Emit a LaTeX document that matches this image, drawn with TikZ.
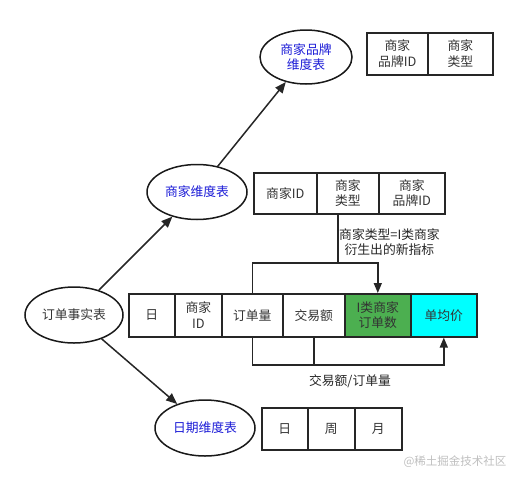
\documentclass[tikz,border=0pt]{standalone}
\usepackage{fontspec}
\setmainfont{Noto Sans CJK SC}
\usetikzlibrary{shapes.geometric,arrows.meta,calc}
\definecolor{dimblue}{HTML}{1A1AD6}
\definecolor{cellgreen}{HTML}{4CAF50}
\definecolor{cellcyan}{HTML}{00FFFF}
\definecolor{txt}{HTML}{333333}
\begin{document}
\begin{tikzpicture}[x=1pt,y=-1pt,
  every node/.style={font=\fontsize{12.8}{15.5}\selectfont, text=txt},
  oval/.style={ellipse, draw=black!90, line width=1.5pt, inner sep=0pt, align=center},
  cell/.style={draw=black!85, line width=1.6pt, anchor=north west, inner sep=0pt, align=center},
  conn/.style={draw=black!85, line width=1.5pt},
  arr/.style={conn, -{Triangle[length=11pt,width=9pt]}},
  arrs/.style={conn, -{Triangle[length=10pt,width=8pt]}}
]
\useasboundingbox (0,0) rectangle (518,482);
% ellipses
\node[oval, minimum width=92pt, minimum height=54pt, text=dimblue] (brand) at (306,57) {商家品牌\\维度表};
\node[oval, minimum width=100pt, minimum height=55pt, text=dimblue] (merch) at (197,192) {商家维度表};
\node[oval, minimum width=98pt, minimum height=56pt] (fact) at (74,315) {订单事实表};
\node[oval, minimum width=100pt, minimum height=56pt, text=dimblue] (date) at (205,428) {日期维度表};
% table 1
\node[cell, minimum width=61pt, minimum height=42pt] (b1) at (366,32) {商家\\品牌ID};
\node[cell, minimum width=65pt, minimum height=42pt] (b2) at (427,32) {商家\\类型};
% table 2
\node[cell, minimum width=63pt, minimum height=41pt] (m1) at (253,172) {商家ID};
\node[cell, minimum width=62pt, minimum height=41pt] (m2) at (316,172) {商家\\类型};
\node[cell, minimum width=66pt, minimum height=41pt] (m3) at (378,172) {商家\\品牌ID};
% main table
\node[cell, minimum width=46pt, minimum height=43pt] (f1) at (128,293) {日};
\node[cell, minimum width=47pt, minimum height=43pt] (f2) at (174,293) {商家\\ID};
\node[cell, minimum width=61pt, minimum height=43pt] (qty) at (221,293) {订单量};
\node[cell, minimum width=62pt, minimum height=43pt] (amt) at (282,293) {交易额};
\node[cell, minimum width=66pt, minimum height=43pt, fill=cellgreen] (green) at (344,293) {I类商家\\订单数};
\node[cell, minimum width=66pt, minimum height=43pt, fill=cellcyan] (avg) at (410,293) {单均价};
% date table
\node[cell, minimum width=46pt, minimum height=42pt] (d1) at (261,407) {日};
\node[cell, minimum width=47pt, minimum height=42pt] (d2) at (307,407) {周};
\node[cell, minimum width=47pt, minimum height=42pt] (d3) at (354,407) {月};
% ellipse arrows
\draw[arr] (fact) -- (merch);
\draw[arr] (merch) -- (brand);
\draw[arr] (fact) -- (date);
% connectors
\coordinate (up) at (0,263);
\coordinate (low) at (0,365);
\draw[conn] ([xshift=-10pt]m2.south) -- ([xshift=-10pt]m2.south |- up);
\draw[arrs] (qty.north) -- (qty.north |- up) -- (green.north |- up) -- (green.north);
\draw[conn] (amt.south) -- (amt.south |- low);
\draw[arrs] (qty.south) -- (qty.south |- low) -- (avg.south |- low) -- (avg.south);
% labels
\node[anchor=west, align=center, inner sep=0pt, text=black!85] (lab1) at (339,242) {商家类型=I类商家\\衍生出的新指标};
\node[text=black!85] (lab2) at (350,381) {交易额/订单量};
\node[text=black!25, font=\fontsize{11.5}{13}\selectfont] (wm) at (455,462) {@稀土掘金技术社区};
\end{tikzpicture}
\end{document}
